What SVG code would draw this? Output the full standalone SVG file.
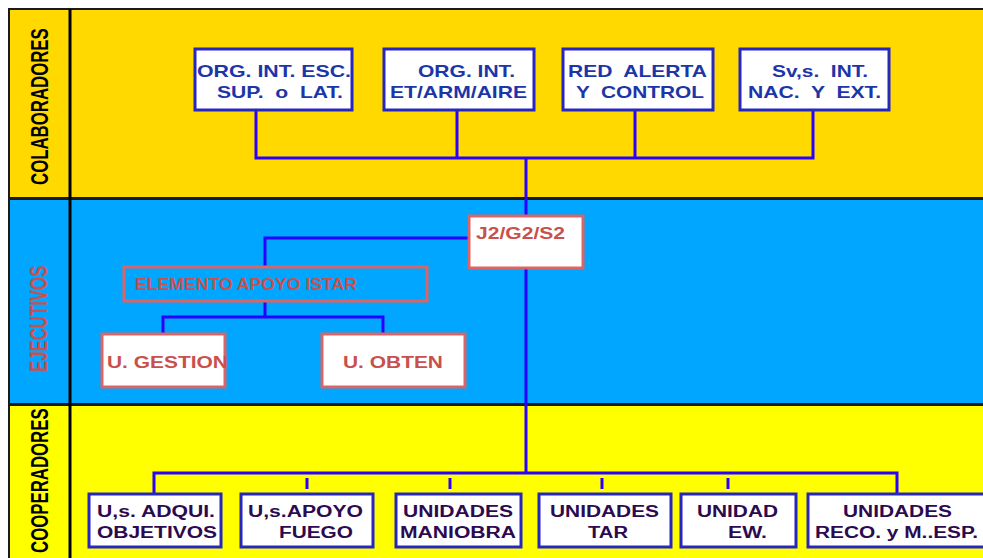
<svg xmlns="http://www.w3.org/2000/svg" width="983" height="558" viewBox="0 0 983 558">
<style>
.band{stroke:#1a1a1a;stroke-width:2}
.bx{fill:#fff;stroke:#2626c0;stroke-width:3}
.rbx{fill:#fff;stroke:#dc6464;stroke-width:3}
.rbo{fill:none;stroke:#dc6464;stroke-width:3}
.c{fill:none;stroke:#2a00ff;stroke-width:3}
.tt{font-family:"Liberation Sans",Arial,sans-serif;font-weight:bold;font-size:17px;fill:#1c35a8}
.bt{font-family:"Liberation Sans",Arial,sans-serif;font-weight:bold;font-size:16px;fill:#2c0a50}
.rt{font-family:"Liberation Sans",Arial,sans-serif;font-weight:bold;font-size:17px;fill:#c8504d}
.side{font-family:"Liberation Sans",Arial,sans-serif;font-weight:bold;font-size:24px}
</style>
<rect x="0" y="0" width="983" height="558" fill="#fff"/>
<g id="bands">
<rect class="band" x="9" y="9" width="980" height="189" fill="#ffd900"/>
<rect class="band" x="9" y="199" width="980" height="205" fill="#00a6ff"/>
<rect class="band" x="9" y="405" width="980" height="160" fill="#ffff00"/>
<line x1="70" y1="9" x2="70" y2="558" stroke="#000" stroke-width="3"/>
<text class="side" fill="#000" transform="translate(48,185) rotate(-90) scale(0.70,1)">COLABORADORES</text>
<text class="side" fill="#c8504d" transform="translate(47,372) rotate(-90) scale(0.70,1)">EJECUTIVOS</text>
<text class="side" fill="#000" transform="translate(48,553) rotate(-90) scale(0.70,1)">COOPERADORES</text>
</g>
<g id="connectors">
<polyline class="c" points="256,110 256,158 813,158 813,110"/>
<line class="c" x1="457" y1="110" x2="457" y2="158"/>
<line class="c" x1="635" y1="110" x2="635" y2="158"/>
<line class="c" x1="526" y1="158" x2="526" y2="473"/>
<polyline class="c" points="470,238 265,238 265,268"/>
<line class="c" x1="265" y1="301" x2="265" y2="317"/>
<polyline class="c" points="163,333 163,317 383,317 383,333"/>
<polyline class="c" points="154,493 154,473 897,473 897,493"/>
<line class="c" x1="307" y1="478" x2="307" y2="489"/>
<line class="c" x1="450" y1="478" x2="450" y2="489"/>
<line class="c" x1="602" y1="478" x2="602" y2="489"/>
<line class="c" x1="728" y1="478" x2="728" y2="489"/>
</g>
<g id="n_org_esc">
<rect class="bx" x="195" y="49" width="157" height="61"/>
<text class="tt" x="197" y="77" textLength="154" lengthAdjust="spacingAndGlyphs">ORG. INT. ESC.</text>
<text class="tt" x="217" y="98" xml:space="preserve" textLength="126" lengthAdjust="spacingAndGlyphs">SUP.  o  LAT.</text>
</g>
<g id="n_org_et">
<rect class="bx" x="384" y="49" width="150" height="61"/>
<text class="tt" x="418" y="77" textLength="97" lengthAdjust="spacingAndGlyphs">ORG. INT.</text>
<text class="tt" x="390" y="98" textLength="137" lengthAdjust="spacingAndGlyphs">ET/ARM/AIRE</text>
</g>
<g id="n_red">
<rect class="bx" x="563" y="49" width="150" height="61"/>
<text class="tt" x="568" y="77" xml:space="preserve" textLength="139" lengthAdjust="spacingAndGlyphs">RED  ALERTA</text>
<text class="tt" x="576" y="98" xml:space="preserve" textLength="128" lengthAdjust="spacingAndGlyphs">Y  CONTROL</text>
</g>
<g id="n_svs">
<rect class="bx" x="740" y="49" width="149" height="61"/>
<text class="tt" x="772" y="77" xml:space="preserve" textLength="96" lengthAdjust="spacingAndGlyphs">Sv,s.  INT.</text>
<text class="tt" x="748" y="98" xml:space="preserve" textLength="133" lengthAdjust="spacingAndGlyphs">NAC.  Y  EXT.</text>
</g>
<g id="n_j2">
<rect class="rbx" x="469" y="216" width="114" height="52"/>
<text class="rt" x="476" y="239" textLength="89" lengthAdjust="spacingAndGlyphs">J2/G2/S2</text>
</g>
<g id="n_elemento">
<rect class="rbo" x="124" y="267" width="303" height="34"/>
<text class="rt" x="135" y="290" font-size="15" textLength="222" lengthAdjust="spacingAndGlyphs">ELEMENTO APOYO ISTAR</text>
</g>
<g id="n_gestion">
<rect class="rbx" x="102" y="334" width="123" height="53"/>
<text class="rt" x="107" y="368" font-size="18" textLength="121" lengthAdjust="spacingAndGlyphs">U. GESTION</text>
</g>
<g id="n_obten">
<rect class="rbx" x="322" y="334" width="143" height="53"/>
<text class="rt" x="343" y="368" font-size="18" textLength="100" lengthAdjust="spacingAndGlyphs">U. OBTEN</text>
</g>
<g id="n_adqui">
<rect class="bx" x="89" y="494" width="132" height="53"/>
<text class="bt" x="97" y="517" textLength="118" lengthAdjust="spacingAndGlyphs">U,s. ADQUI.</text>
<text class="bt" x="97" y="538" textLength="120" lengthAdjust="spacingAndGlyphs">OBJETIVOS</text>
</g>
<g id="n_apoyo">
<rect class="bx" x="241" y="494" width="132" height="53"/>
<text class="bt" x="248" y="517" textLength="115" lengthAdjust="spacingAndGlyphs">U,s.APOYO</text>
<text class="bt" x="279" y="538" textLength="74" lengthAdjust="spacingAndGlyphs">FUEGO</text>
</g>
<g id="n_maniobra">
<rect class="bx" x="396" y="494" width="125" height="53"/>
<text class="bt" x="403" y="517" textLength="110" lengthAdjust="spacingAndGlyphs">UNIDADES</text>
<text class="bt" x="400" y="538" textLength="116" lengthAdjust="spacingAndGlyphs">MANIOBRA</text>
</g>
<g id="n_tar">
<rect class="bx" x="539" y="494" width="132" height="53"/>
<text class="bt" x="550" y="517" textLength="109" lengthAdjust="spacingAndGlyphs">UNIDADES</text>
<text class="bt" x="588" y="538" textLength="40" lengthAdjust="spacingAndGlyphs">TAR</text>
</g>
<g id="n_ew">
<rect class="bx" x="681" y="494" width="115" height="53"/>
<text class="bt" x="697" y="517" textLength="81" lengthAdjust="spacingAndGlyphs">UNIDAD</text>
<text class="bt" x="728" y="538" textLength="39" lengthAdjust="spacingAndGlyphs">EW.</text>
</g>
<g id="n_reco">
<rect class="bx" x="808" y="494" width="185" height="53"/>
<text class="bt" x="843" y="517" textLength="109" lengthAdjust="spacingAndGlyphs">UNIDADES</text>
<text class="bt" x="815" y="538" textLength="163" lengthAdjust="spacingAndGlyphs">RECO. y M..ESP.</text>
</g>
</svg>
